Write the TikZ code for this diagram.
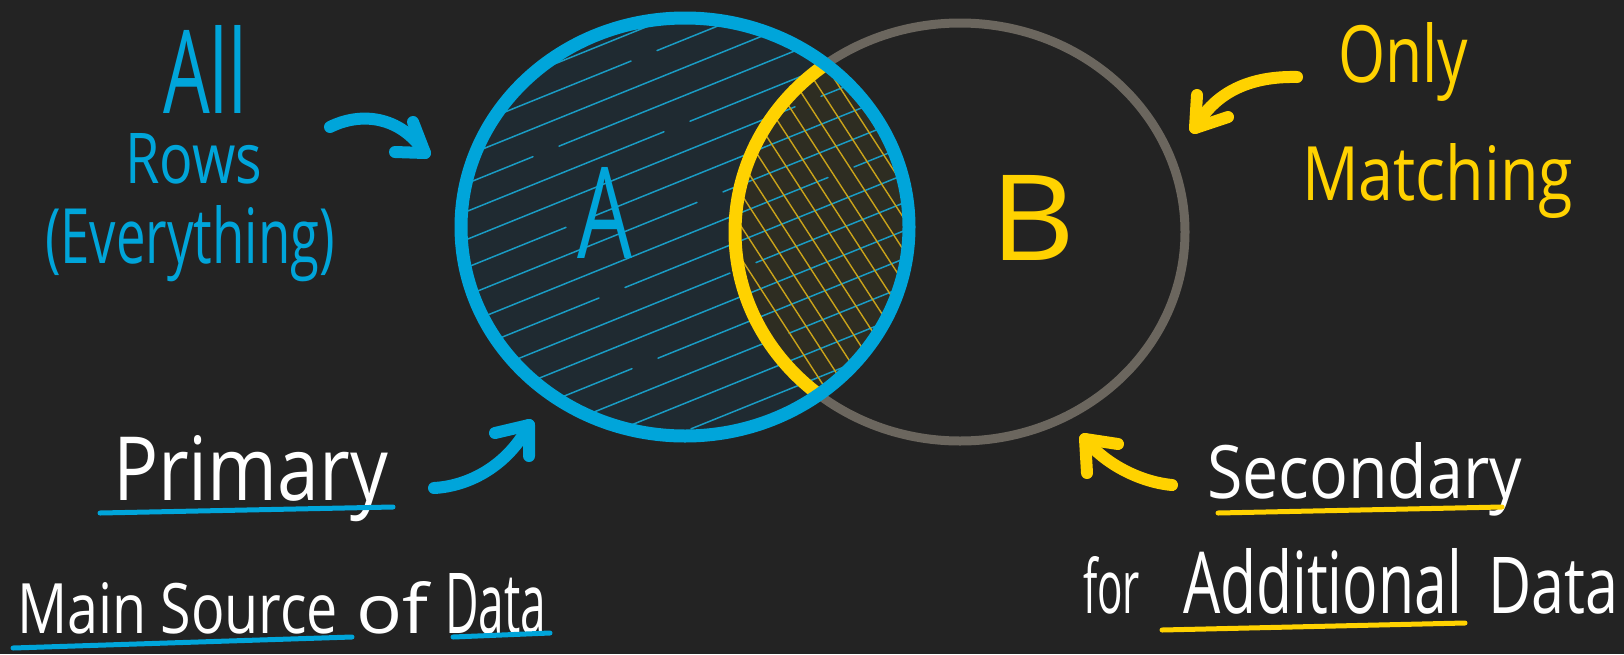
\documentclass[tikz,border=0pt]{standalone}
\usepackage{fontspec}
\setmainfont{Open Sans}
\usepackage{graphicx}
\definecolor{bg}{HTML}{232323}
\definecolor{cblue}{HTML}{00A5DA}
\definecolor{cyel}{HTML}{FFD200}
\definecolor{cgrey}{HTML}{6B665E}
\definecolor{afill}{HTML}{1F2A31}
\definecolor{ifill}{HTML}{2E2D22}
\definecolor{hblue}{HTML}{1A9CC4}
\definecolor{hyel}{HTML}{C9A31A}
\newcommand{\fitt}[3]{\resizebox{#1pt}{#2pt}{#3}}
\tikzset{
 lbl/.style={anchor=base west, inner sep=0pt, outer sep=0pt},
 arr/.style={line width=12pt, line cap=round, line join=round},
 uline/.style={line width=5pt, line cap=round},
 hatchA/.style={hblue, line width=1.5pt, line cap=round},
 hatchI/.style={hyel, line width=1.4pt, line cap=round},
 ellA/.style={x radius=224pt, y radius=209pt},
 ellB/.style={x radius=225pt, y radius=209pt},
}
\begin{document}
\begin{tikzpicture}[x=1pt,y=-1pt]
\fill[bg] (0,0) rectangle (1624,654);
\useasboundingbox (0,0) rectangle (1624,654);
\coordinate (cA) at (685,227);
\coordinate (cB) at (960,232);
% fills and hatching
\fill[afill] (cA) ellipse [ellA];
\begin{scope}
 \clip (cA) ellipse [ellA];
 \fill[ifill] (cB) ellipse [ellB];
 \foreach \i in {0,...,15}{
  \pgfmathsetmacro\c{288+28*\i}
  \pgfmathsetmacro\g{500+mod(\i*131,360)}
  \draw[hatchA] (430,{\c-0.404*430}) -- (\g,{\c-0.404*\g});
  \draw[hatchA] ({\g+26},{\c-0.404*(\g+26)}) -- (940,{\c-0.404*940});
 }
 \begin{scope}
  \clip (cB) ellipse [ellB];
  \foreach \i in {0,...,11}{
   \pgfmathsetmacro\d{552+21*\i}
   \draw[hatchI] ({\d+0.65*40},40) -- ({\d+0.65*420},420);
  }
 \end{scope}
\end{scope}
% outlines
\draw[cgrey, line width=9pt] (cB) ellipse [ellB];
\begin{scope}
 \clip (cA) ellipse [ellA];
 \draw[cyel, line width=13pt] (cB) ellipse [ellB];
\end{scope}
\draw[cblue, line width=13pt] (cA) ellipse [ellA];
% labels
\node[lbl, text=cblue] (all) at (163,113) {\fitt{84}{88}{All}};
\node[lbl, text=cblue] (rows) at (125,183) {\fitt{137}{50}{Rows}};
\node[lbl, text=cblue] (every) at (45,263) {\fitt{290}{58}{(Everything)}};
\node[lbl, text=cblue] (A) at (577,258) {\fitt{55}{91}{A}};
\node[lbl, text=cyel] (B) at (990,260) {\fitt{85}{85}{B}};
\node[lbl, text=cyel] (only) at (1338,82) {\fitt{130}{60}{Only}};
\node[lbl, text=cyel] (match) at (1302,200) {\fitt{271}{57}{Matching}};
\node[lbl, text=white] (prim) at (113,500) {\fitt{275}{65}{Primary}};
\node[lbl, text=white] (mainsrc) at (17,633) {\fitt{321}{51}{Main Source}};
\node[lbl, text=white] (of) at (356,633) {\fitt{72}{52}{of}};
\node[lbl, text=white] (dataL) at (445,633) {\fitt{101}{60}{Data}};
\node[lbl, text=white] (sec) at (1207,498) {\fitt{315}{56}{Secondary}};
\node[lbl, text=white] (for) at (1083,613) {\fitt{57}{57}{for}};
\node[lbl, text=white] (addl) at (1183,613) {\fitt{279}{65}{Additional}};
\node[lbl, text=white] (dataR) at (1488,613) {\fitt{130}{56}{Data}};
% underlines
\draw[uline, cblue] (100,513) -- (393,507);
\draw[uline, cblue] (13,648) -- (352,637);
\draw[uline, cblue] (453,637) -- (550,633);
\draw[uline, cyel] (1218,513) -- (1502,507);
\draw[uline, cyel] (1162,630) -- (1465,623);
% arrows
\coordinate (t1) at (330,127); \coordinate (h1) at (425,153);
\draw[arr, cblue] (t1) .. controls (360,112) and (400,115) .. (h1);
\draw[arr, cblue] (413,122) -- (h1) -- (395,152);
\coordinate (t2) at (434,488); \coordinate (h2) at (529,425);
\draw[arr, cblue] (t2) .. controls (470,486) and (508,465) .. (h2);
\draw[arr, cblue] (495,433) -- (h2) -- (529,456);
\coordinate (t3) at (1297,77); \coordinate (h3) at (1195,128);
\draw[arr, cyel] (t3) .. controls (1250,76) and (1215,92) .. (h3);
\draw[arr, cyel] (1197,95) -- (h3) -- (1228,117);
\coordinate (t4) at (1172,485); \coordinate (h4) at (1085,439);
\draw[arr, cyel] (t4) .. controls (1140,482) and (1105,464) .. (h4);
\draw[arr, cyel] (1118,444) -- (h4) -- (1087,473);
\end{tikzpicture}
\end{document}
